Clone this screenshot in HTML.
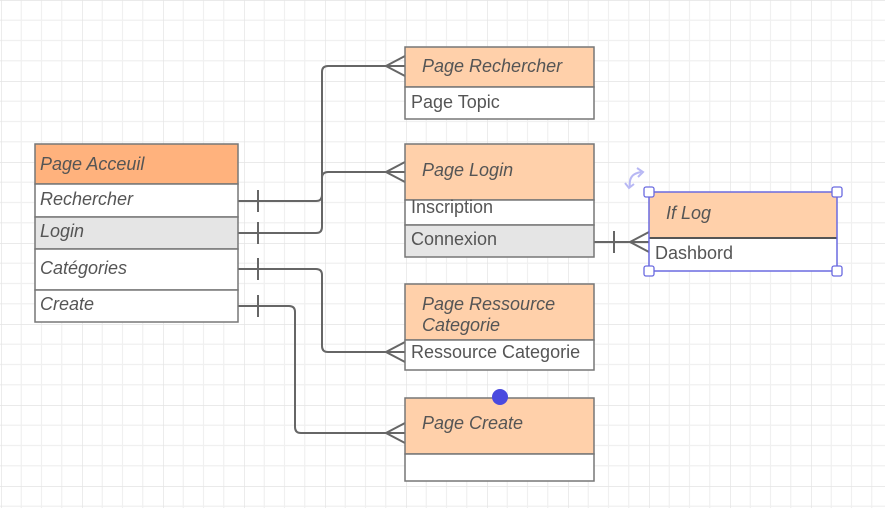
<!DOCTYPE html>
<html><head><meta charset="utf-8"><style>
html,body{margin:0;padding:0;background:#fff;}
svg{display:block;}
text{font-family:"Liberation Sans",sans-serif;font-size:18px;fill:#555;}
.i{font-style:italic;}
</style></head><body>
<svg width="885" height="508" viewBox="0 0 885 508" xmlns="http://www.w3.org/2000/svg">
<defs>
<pattern id="g" x="1" y="0" width="81" height="81" patternUnits="userSpaceOnUse">
<path d="M20.25 0V81M40.5 0V81M60.75 0V81M0 20.25H81M0 40.5H81M0 60.75H81" stroke="#f0f0f0" stroke-width="1.2" fill="none"/>
<path d="M0 0V81M0 0H81" stroke="#e4e4e4" stroke-width="1.4" fill="none"/>
</pattern>
</defs>
<rect width="885" height="508" fill="url(#g)"/>

<g stroke="#666" stroke-width="2" fill="none">
<path d="M238 201H316Q322 201 322 195V72Q322 66 328 66H405"/>
<path d="M238 233H316Q322 233 322 227V178Q322 172 328 172H405"/>
<path d="M238 269H316Q322 269 322 275V346Q322 352 328 352H405"/>
<path d="M238 306H289Q295 306 295 312V427Q295 433 301 433H405"/>
<path d="M594 242H649"/>
<path d="M258 190V212M258 222V244M258 258V280M258 295V317M614 231V253"/>
<path d="M405 56L386 66L405 76M405 162L386 172L405 182M405 342L386 352L405 362M405 423L386 433L405 443M649 232L630 242L649 252"/>
</g>

<g stroke="#777" stroke-width="1.5">
<rect x="35" y="144" width="203" height="40" fill="#ffb27d"/>
<rect x="35" y="184" width="203" height="33" fill="#fff"/>
<rect x="35" y="217" width="203" height="32" fill="#e5e5e5"/>
<rect x="35" y="249" width="203" height="41" fill="#fff"/>
<rect x="35" y="290" width="203" height="32" fill="#fff"/>
</g>
<text x="40" y="170" class="i">Page Acceuil</text>
<text x="40" y="205" class="i">Rechercher</text>
<text x="40" y="237" class="i">Login</text>
<text x="40" y="274" class="i">Catégories</text>
<text x="40" y="310" class="i">Create</text>

<g stroke="#777" stroke-width="1.5">
<rect x="405" y="47" width="189" height="40" fill="#ffd0aa"/>
<rect x="405" y="87" width="189" height="32" fill="#fff"/>
</g>
<text x="422" y="72" class="i">Page Rechercher</text>
<text x="411" y="108">Page Topic</text>

<g stroke="#777" stroke-width="1.5">
<rect x="405" y="144" width="189" height="56" fill="#ffd0aa"/>
<rect x="405" y="200" width="189" height="25" fill="#fff"/>
<rect x="405" y="225" width="189" height="32" fill="#e5e5e5"/>
</g>
<text x="422" y="176" class="i">Page Login</text>
<text x="411" y="213">Inscription</text>
<text x="411" y="245">Connexion</text>

<g stroke="#777" stroke-width="1.5">
<rect x="405" y="284" width="189" height="56" fill="#ffd0aa"/>
<rect x="405" y="340" width="189" height="30" fill="#fff"/>
</g>
<text x="422" y="310" class="i">Page Ressource</text>
<text x="422" y="331" class="i">Categorie</text>
<text x="411" y="358">Ressource Categorie</text>

<g stroke="#777" stroke-width="1.5">
<rect x="405" y="398" width="189" height="56" fill="#ffd0aa"/>
<rect x="405" y="454" width="189" height="27" fill="#fff"/>
</g>
<text x="422" y="429" class="i">Page Create</text>
<circle cx="500" cy="397" r="8" fill="#4a4adf"/>

<rect x="649" y="192" width="188" height="46" fill="#ffd0aa"/>
<rect x="649" y="238" width="188" height="33" fill="#fff"/>
<path d="M649 238H837" stroke="#555" stroke-width="2"/>
<rect x="649" y="192" width="188" height="79" fill="none" stroke="#6a6ae0" stroke-width="1.5"/>
<g fill="#fff" stroke="#6a6ae0" stroke-width="1.3">
<rect x="644" y="187" width="10" height="10" rx="2"/>
<rect x="832" y="187" width="10" height="10" rx="2"/>
<rect x="644" y="266" width="10" height="10" rx="2"/>
<rect x="832" y="266" width="10" height="10" rx="2"/>
</g>
<path d="M630 187Q628 174 641 172" stroke="#b8b8f4" stroke-width="2" fill="none"/>
<path d="M637 168L643 172L638 177M625 183L629 188L634 184" stroke="#b8b8f4" stroke-width="2" fill="none"/>
<text x="666" y="219" class="i">If Log</text>
<text x="655" y="259">Dashbord</text>
</svg>
</body></html>
